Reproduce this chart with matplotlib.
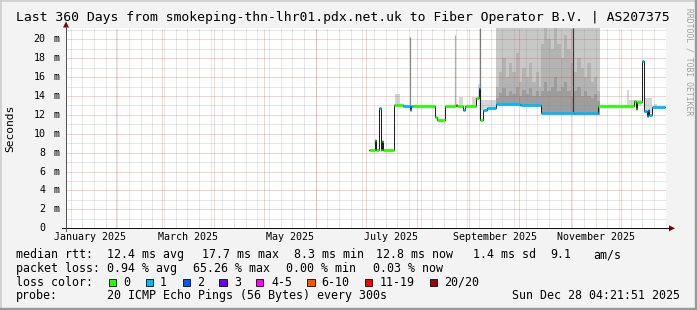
import matplotlib
matplotlib.use("Agg")
import matplotlib.pyplot as plt
import pandas as pd
from matplotlib.patches import Rectangle, Polygon
from matplotlib.lines import Line2D

# ---------------- data ----------------
title = "Last 360 Days from smokeping-thn-lhr01.pdx.net.uk to Fiber Operator B.V. | AS207375"
t_start = "2025-01-02 04:21:51"
t_end = "2025-12-28 04:21:51"
y_max = 21.16

y_tick_vals = [0, 2, 4, 6, 8, 10, 12, 14, 16, 18, 20]
y_tick_nums = ["0", "2", "4", "6", "8", "10", "12", "14", "16", "18", "20"]

month_labels = ["January 2025", "March 2025", "May 2025", "July 2025",
                "September 2025", "November 2025"]
month_label_dates = ["2025-01-16 08:00", "2025-03-16 08:00", "2025-05-16 08:00",
                     "2025-07-16 08:00", "2025-09-16 08:00", "2025-11-16 08:00"]

# median rtt steps (ms) and loss class index
med_dates = ["2025-07-03 04:00", "2025-07-06 12:00", "2025-07-07 06:00", "2025-07-09 04:00",
             "2025-07-10 00:00", "2025-07-10 18:00", "2025-07-11 10:00", "2025-07-18 04:00",
             "2025-07-23 14:00", "2025-07-27 14:00", "2025-07-28 06:00", "2025-07-29 12:00",
             "2025-08-11 14:00", "2025-08-13 00:00", "2025-08-17 14:00", "2025-08-24 00:00",
             "2025-08-24 16:00", "2025-08-28 14:00", "2025-08-29 12:00", "2025-09-05 00:00",
             "2025-09-06 18:00", "2025-09-07 12:00", "2025-09-09 10:00", "2025-09-11 14:00",
             "2025-09-17 00:00", "2025-10-01 14:00", "2025-10-02 06:00", "2025-10-14 00:00",
             "2025-11-03 00:00", "2025-11-17 14:00", "2025-12-09 00:00", "2025-12-10 04:00",
             "2025-12-11 00:00", "2025-12-13 14:00", "2025-12-15 00:00", "2025-12-16 12:00",
             "2025-12-17 06:00", "2025-12-18 06:00", "2025-12-19 14:00"]
med_end = "2025-12-27 16:00"
med_vals = [8.3, 9.3, 8.3, 12.7,
            8.3, 9.2, 8.3, 13.0,
            12.9, 12.5, 12.9, 12.9,
            11.8, 11.5, 12.9, 13.0,
            12.9, 12.5, 12.9, 13.8,
            14.8, 11.5, 12.5, 12.7,
            13.2, 13.0, 13.05, 12.2,
            12.15, 12.9, 13.5, 12.6,
            13.4, 17.7, 12.4, 11.9,
            12.5, 12.0, 12.8]
med_loss = [0, 0, 0, 1,
            0, 0, 0, 0,
            1, 1, 1, 0,
            0, 0, 0, 6,
            0, 1, 0, 0,
            1, 0, 1, 1,
            1, 1, 1, 1,
            1, 0, 0, 0,
            0, 1, 1, 1,
            1, 1, 1]

loss_labels = ["0", "1", "2", "3", "4-5", "6-10", "11-19", "20/20"]
loss_colors = ["#26ff00", "#00b8ff", "#0059ff", "#6a00ff", "#ff00ff",
               "#ff5500", "#ff0000", "#a10000"]

# heavy smoke period (ms levels of ping distribution)
smoke_dates = ["2025-09-17 00:00", "2025-09-19 00:00", "2025-09-21 00:00", "2025-09-23 00:00",
               "2025-09-25 00:00", "2025-09-27 00:00", "2025-09-29 00:00", "2025-10-01 00:00",
               "2025-10-03 00:00", "2025-10-05 00:00", "2025-10-07 00:00", "2025-10-09 00:00",
               "2025-10-11 00:00", "2025-10-13 00:00", "2025-10-14 00:00", "2025-10-16 00:00",
               "2025-10-18 00:00", "2025-10-20 00:00", "2025-10-22 00:00", "2025-10-24 00:00",
               "2025-10-26 00:00", "2025-10-28 00:00", "2025-10-30 00:00", "2025-11-01 00:00",
               "2025-11-03 00:00", "2025-11-05 00:00", "2025-11-07 00:00", "2025-11-09 00:00",
               "2025-11-11 00:00", "2025-11-13 00:00", "2025-11-15 00:00", "2025-11-17 00:00"]
smoke_end = "2025-11-18 14:00"
smoke_base = [13.1, 13.1, 13.1, 13.1, 13.1, 13.1, 13.1, 12.9, 12.9, 12.9,
              12.9, 12.9, 12.9, 12.9, 12.1, 12.1, 12.1, 12.1, 12.1, 12.1,
              12.1, 12.1, 12.1, 12.1, 12.0, 12.0, 12.0, 12.0, 12.0, 12.0,
              12.0, 12.0]
smoke_top = [21.2] * 32
smoke_high = [15.0, 16.5, 18.0, 16.0, 17.5, 16.5, 18.5, 15.5, 17.0, 16.0,
              17.5, 15.5, 16.5, 15.0, 19.5, 21.2, 20.0, 19.0, 21.2, 19.5,
              18.0, 20.5, 19.0, 17.5, 16.5, 18.0, 17.0, 16.0, 17.5, 15.5,
              16.0, 14.5]
smoke_mid = [13.8, 14.3, 14.8, 14.0, 14.5, 14.2, 15.0, 14.0, 14.6, 14.2,
             14.8, 14.0, 14.5, 14.0, 14.5, 15.5, 14.5, 15.0, 16.0, 14.5,
             15.0, 15.5, 14.5, 14.0, 14.5, 15.0, 14.0, 14.5, 14.0, 13.8,
             14.2, 13.5]

# light smoke patches elsewhere
patch_start = ["2025-07-18 12:00", "2025-08-26 00:00", "2025-09-02 18:00", "2025-09-06 12:00",
               "2025-09-08 00:00", "2025-12-04 18:00", "2025-12-06 00:00", "2025-12-15 00:00",
               "2025-12-21 00:00"]
patch_end = ["2025-07-21 12:00", "2025-08-28 12:00", "2025-09-05 06:00", "2025-09-07 18:00",
             "2025-09-17 00:00", "2025-12-05 18:00", "2025-12-13 00:00", "2025-12-19 12:00",
             "2025-12-23 00:00"]
patch_base = [13.0, 12.9, 12.9, 13.8, 12.5, 12.9, 12.9, 12.2, 12.8]
patch_top = [14.2, 13.9, 13.9, 15.3, 13.6, 14.6, 13.6, 13.8, 13.2]

# single outlier spikes
spike_dates = ["2025-07-27 14:00", "2025-08-23 20:00", "2025-09-07 14:00", "2025-11-02 14:00"]
spike_base = [12.9, 12.9, 11.5, 12.2]
spike_top = [20.2, 20.5, 21.2, 21.2]

rtt_label = "median rtt:"
rtt_items = ["12.4 ms avg", "17.7 ms max", "8.3 ms min", "12.8 ms now", "1.4 ms sd", "9.1", "am/s"]
loss_label = "packet loss:"
loss_items = ["0.94 % avg", "65.26 % max", "0.00 % min", "0.03 % now"]
color_label = "loss color:"
probe_label = "probe:"
probe_text = "20 ICMP Echo Pings (56 Bytes) every 300s"
stamp = "Sun Dec 28 04:21:51 2025"
watermark = "RRDTOOL / TOBI OETIKER"
y_label = "Seconds"

# ---------------- layout ----------------
W, H, DPI = 697, 310, 100
PX = 72.0 / DPI
MONO = "DejaVu Sans Mono"
X0, X1, YT, YB = 66.0, 666.0, 28.3, 228.3


def todt(lst):
    return pd.to_datetime(lst, format="mixed")


fig = plt.figure(figsize=(W / DPI, H / DPI), dpi=DPI, facecolor="#f3f3f3")


def fp(x, y):
    return (x / W, 1 - y / H)


def ftext(x, y, s, size, ha="left", va="center", **kw):
    fig.text(x / W, 1 - y / H, s, fontsize=size, ha=ha, va=va,
             family=MONO, color=kw.pop("color", "black"), **kw)


ax = fig.add_axes([X0 / W, 1 - YB / H, (X1 - X0) / W, (YB - YT) / H])
ax.set_facecolor("white")
for s in ax.spines.values():
    s.set_visible(False)
ax.set_xticks([])
ax.set_yticks([])
ts, te = pd.Timestamp(t_start), pd.Timestamp(t_end)
ax.set_xlim(ts, te)
ax.set_ylim(0, y_max)

# smoke (heavy period)
sd = todt(smoke_dates + [smoke_end])


def ext(a):
    return list(a) + [a[-1]]


ax.fill_between(sd, ext(smoke_base), ext(smoke_top), step="post", color="#c8c8c8", lw=0, zorder=1)
ax.fill_between(sd, ext(smoke_base), ext(smoke_high), step="post", color="#b3b3b3", lw=0, zorder=1.1)
ax.fill_between(sd, ext(smoke_base), ext(smoke_mid), step="post", color="#9d9d9d", lw=0, zorder=1.2)

for a, b, lo, hi in zip(patch_start, patch_end, patch_base, patch_top):
    ax.fill_between(todt([a, b]), [lo, lo], [hi, hi], color="#d6d6d6", lw=0, zorder=1)

spike_cols = ["#8a8a8a", "#b0b0b0", "#7a7a7a", "#3a3a3a"]
ax.vlines(todt(spike_dates), spike_base, spike_top, colors=spike_cols,
          lw=1.2 * PX, zorder=1.5)

# grid
minor_col = (0.55, 0.55, 0.55, 0.42)
major_col = (0.82, 0.19, 0.19, 0.42)
gkw = dict(lw=1 * PX, ls=(0, (1, 1)), zorder=2)
for d in pd.date_range("2025-01-05", "2025-12-28", freq="7D"):
    ax.axvline(d, color=minor_col, **gkw)
for d in pd.date_range("2025-02-01", "2025-12-01", freq="MS"):
    ax.axvline(d, color=major_col, **gkw)
for v in range(1, 22, 2):
    ax.axhline(v, color=minor_col, **gkw)
for v in range(2, 21, 2):
    ax.axhline(v, color=major_col, **gkw)

# median line
md = todt(med_dates + [med_end])
mv = med_vals + [med_vals[-1]]
ax.step(md, mv, where="post", color="#202020", lw=1 * PX, zorder=3)
for i in range(len(med_vals)):
    ax.plot([md[i], md[i + 1]], [med_vals[i], med_vals[i]], color=loss_colors[med_loss[i]],
            lw=2.8 * PX, solid_capstyle="butt", zorder=3.5)

# axes lines and arrows
fig.add_artist(Line2D([fp(62, YB)[0], fp(670, YB)[0]], [fp(62, YB)[1]] * 2,
                      color="#111111", lw=1 * PX))
fig.add_artist(Line2D([fp(X0, 0)[0]] * 2, [fp(0, YB + 3)[1], fp(0, 26)[1]],
                      color="#555555", lw=1 * PX))
fig.add_artist(Polygon([fp(669, YB - 3), fp(675, YB), fp(669, YB + 3)], closed=True,
                       color="#7f0000", lw=0))
fig.add_artist(Polygon([fp(X0 - 3, 27.5), fp(X0, 21.5), fp(X0 + 3, 27.5)], closed=True,
                       color="#7f0000", lw=0))

# y tick labels
for v, n in zip(y_tick_vals, y_tick_nums):
    yy = YB - v * (YB - YT) / y_max
    ftext(45.7, yy, n, 7.2, ha="right")
    if v != 0:
        ftext(54.0, yy, "m", 7.2)

# x tick labels
for lab, d in zip(month_labels, month_label_dates):
    xx = X0 + (pd.Timestamp(d) - ts) / (te - ts) * (X1 - X0)
    ftext(xx, 237.3, lab, 7.2, ha="center")

# title, axis label, watermark
ftext(343.0, 17.0, title, 9.45, ha="center")
ftext(10.5, 128.0, y_label, 8.1, ha="center", rotation=90)
ftext(688.5, 62.0, watermark, 5.8, ha="center", rotation=270, color="#a0a0a0")

# legend
LS = 8.37
ftext(16, 254.7, rtt_label, LS)
for s, x in zip(rtt_items, [107.3, 202.0, 294.5, 376.0, 472.7, 549.8, 593.0]):
    ftext(x, 254.7, s, LS)
ftext(16, 268.3, loss_label, LS)
for s, x in zip(loss_items, [107.3, 193.3, 286.0, 372.7]):
    ftext(x, 268.3, s, LS)
ftext(16, 282.3, color_label, LS)
box_x = [108.7, 145.7, 182.7, 219.3, 256.0, 307.3, 365.0, 430.0]
lab_x = [123.3, 160.0, 196.7, 234.0, 271.3, 321.7, 380.0, 444.4]
for bx, lx, lab, c in zip(box_x, lab_x, loss_labels, loss_colors):
    fig.add_artist(Rectangle(fp(bx, 286.0), 7.3 / W, 7.3 / H, facecolor=c,
                             edgecolor="black", lw=0.8 * PX))
    ftext(lx, 282.3, lab, LS)
ftext(16, 295.7, probe_label, LS)
ftext(107.3, 295.7, probe_text, LS)
ftext(680.0, 295.7, stamp, LS, ha="right")

# border shading
fig.add_artist(Line2D([0, 1], [fp(0, 0.8)[1]] * 2, color="#cbcbcb", lw=1.6 * PX))
fig.add_artist(Line2D([fp(0.8, 0)[0]] * 2, [0, 1], color="#cbcbcb", lw=1.6 * PX))
fig.add_artist(Line2D([0, 1], [fp(0, H - 1.2)[1]] * 2, color="#999999", lw=2.4 * PX))
fig.add_artist(Line2D([fp(W - 1.2, 0)[0]] * 2, [0, 1], color="#999999", lw=2.4 * PX))

fig.savefig("out.png", dpi=DPI, facecolor=fig.get_facecolor())
